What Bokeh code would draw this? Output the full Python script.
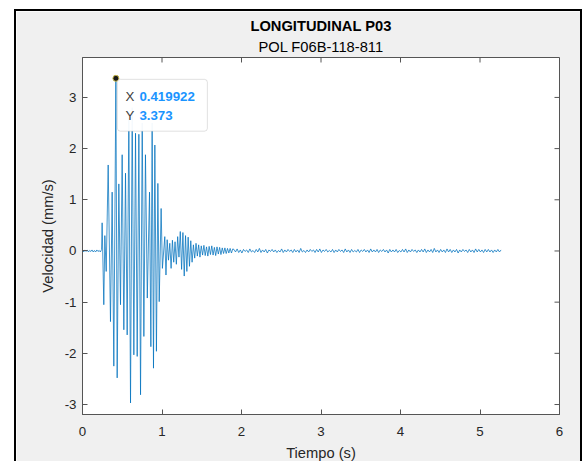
from bokeh.plotting import figure
from bokeh.models import Range1d, FixedTicker, Label, Title, BoxAnnotation
from bokeh.embed import file_html
from bokeh.resources import INLINE

title_text = "LONGITUDINAL P03"
subtitle_text = "POL F06B-118-811"
x_label = "Tiempo (s)"
y_label = "Velocidad (mm/s)"
x_ticks = [0, 1, 2, 3, 4, 5, 6]
y_ticks = [-3, -2, -1, 0, 1, 2, 3]

# pre-event noise
pre_t = [0.0, 0.015, 0.03, 0.045, 0.06, 0.075, 0.09, 0.105, 0.12, 0.135,
         0.15, 0.165, 0.18, 0.195, 0.21, 0.225, 0.24]
pre_v = [0.01, -0.02, 0.02, -0.01, 0.02, -0.02, 0.01, -0.01, 0.02, -0.02,
         0.01, -0.02, 0.02, -0.01, 0.01, -0.02, 0.03]

# strong-motion extrema
event_t = [0.247, 0.268, 0.281, 0.298, 0.323, 0.352, 0.373, 0.394, 0.419922, 0.436,
           0.457, 0.478, 0.499, 0.520, 0.541, 0.562, 0.583, 0.604, 0.625, 0.646,
           0.667, 0.688, 0.709, 0.730, 0.751, 0.772, 0.792, 0.815, 0.843, 0.860,
           0.876, 0.893, 0.910, 0.930, 0.948, 0.965, 0.989, 1.005, 1.035, 1.050]
event_v = [0.55, -1.05, 0.30, -0.40, 1.68, -1.38, 1.15, -2.25, 3.373, -2.48,
           1.31, -1.05, 1.88, -1.54, 1.52, -1.64, 2.60, -2.97, 2.80, -2.03,
           2.30, -2.06, 2.28, -2.81, 2.50, -1.67, 1.88, -0.92, 1.15, -1.87,
           2.50, -2.29, 2.07, -1.96, 1.32, -0.99, 0.83, -0.34, 0.28, -0.47]

# coda (sampled extrema)
coda_t0 = 1.065
coda_dt = 0.0165
coda_v = [0.22, -0.18, 0.15, -0.34, 0.21, -0.22, 0.18, -0.26, 0.28, -0.12,
          0.38, -0.36, 0.36, -0.49, 0.30, -0.40, 0.27, -0.30, 0.20, -0.22,
          0.12, -0.14, 0.15, -0.10, 0.12, -0.12, 0.10, -0.08, 0.11, -0.09,
          0.08, -0.10, 0.09, -0.07, 0.10, -0.08, 0.07, -0.09, 0.08, -0.06,
          0.07, -0.07, 0.06, -0.05, 0.06, -0.05, 0.05, -0.04, 0.05, -0.04, 0.04]

# background noise
noise_t0 = 1.905
noise_dt = 0.02
noise_v = [0.03, -0.02, 0.04, -0.03, 0.02, -0.04, 0.03, -0.01, 0.02, -0.03,
           0.04, -0.02, 0.01, -0.03, 0.03, -0.02, 0.05, -0.03, 0.02, -0.02,
           0.03, -0.04, 0.02, -0.01, 0.03, -0.02, 0.02, -0.03, 0.01, -0.02,
           0.04, -0.03, 0.02, -0.02, 0.03, -0.01, 0.02, -0.03, 0.03, -0.02,
           0.02, -0.03, 0.05, -0.02, 0.01, -0.03, 0.02, -0.02, 0.03, -0.01,
           0.02, -0.03, 0.03, -0.02, 0.04, -0.03, 0.02, -0.01, 0.03, -0.02,
           0.01, -0.02, 0.03, -0.03, 0.02, -0.02, 0.03, -0.01, 0.02, -0.03,
           0.04, -0.02, 0.02, -0.03, 0.03, -0.02, 0.01, -0.02, 0.03, -0.03,
           0.02, -0.01, 0.03, -0.02, 0.02, -0.03, 0.04, -0.02, 0.02, -0.02,
           0.03, -0.03, 0.02, -0.01, 0.03, -0.02, 0.02, -0.04, 0.03, -0.02,
           0.02, -0.02, 0.03, -0.03, 0.01, -0.02, 0.03, -0.02, 0.04, -0.03,
           0.02, -0.02, 0.03, -0.01, 0.02, -0.03, 0.02, -0.02, 0.03, -0.02,
           0.04, -0.03, 0.02, -0.02, 0.03, -0.03, 0.05, -0.02, 0.02, -0.03,
           0.03, -0.02, 0.02, -0.03, 0.04, -0.02, 0.03, -0.03, 0.02, -0.02,
           0.03, -0.04, 0.02, -0.02, 0.03, -0.01, 0.02, -0.03, 0.03, -0.02,
           0.02, -0.03, 0.04, -0.02, 0.03, -0.02, 0.02, -0.03, 0.03, -0.02,
           0.03, -0.02, 0.02, -0.03, 0.02, -0.02, 0.03, -0.02, 0.02]

tip_x = 0.419922
tip_y = 3.373

coda_t = [coda_t0 + i * coda_dt for i in range(len(coda_v))]
noise_t = [noise_t0 + i * noise_dt for i in range(len(noise_v))]
t = pre_t + event_t + coda_t + noise_t
v = pre_v + event_v + coda_v + noise_v

FONT = "Liberation Sans"
TXT = "#262626"
AX = "#555555"

X0, X1 = 0, 6
Y0, Y1 = -3.195, 3.78
FRAME_W, FRAME_H = 477, 358
PX_X = FRAME_W / (X1 - X0)
PX_Y = FRAME_H / (Y1 - Y0)

p = figure(width=568, height=452, output_backend="svg", toolbar_location=None,
           x_range=Range1d(X0, X1), y_range=Range1d(Y0, Y1),
           min_border_left=66, min_border_right=25, min_border_top=46, min_border_bottom=48,
           background_fill_color="white", border_fill_color="#f0f0f0",
           outline_line_color=AX, outline_line_width=1)
p.styles = {"margin-left": "14px", "margin-top": "9px",
            "border-left": "2px solid black", "border-top": "2px solid black",
            "border-right": "2px solid black"}
p.grid.visible = False

p.line(t, v, line_color="#0072BD", line_width=0.75)

for ax, ticks in ((p.xaxis[0], x_ticks), (p.yaxis[0], y_ticks)):
    ax.ticker = FixedTicker(ticks=ticks)
    ax.major_label_overrides = {k: str(k) for k in ticks}
    ax.major_tick_in = 5
    ax.major_tick_out = 0
    ax.minor_tick_line_color = None
    ax.axis_line_color = AX
    ax.major_tick_line_color = AX
    ax.major_label_text_font = FONT
    ax.major_label_text_color = TXT
    ax.major_label_text_font_size = "13.3px"
    ax.axis_label_text_font = FONT
    ax.axis_label_text_font_size = "14.7px"
    ax.axis_label_text_font_style = "normal"
    ax.axis_label_text_color = TXT
p.xaxis.axis_label = x_label
p.yaxis.axis_label = y_label
p.xaxis.major_label_standoff = 12
p.yaxis.major_label_standoff = 6
p.xaxis.axis_label_standoff = 6
p.yaxis.axis_label_standoff = 6

# box ticks on top and right edges
p.segment(x0=x_ticks, y0=[Y1] * len(x_ticks), x1=x_ticks, y1=[Y1 - 5 / PX_Y] * len(x_ticks),
          line_color=AX, line_width=1)
p.segment(x0=[X1] * len(y_ticks), y0=y_ticks, x1=[X1 - 5 / PX_X] * len(y_ticks), y1=y_ticks,
          line_color=AX, line_width=1)

p.add_layout(Title(text=subtitle_text, align="center", text_font=FONT, text_font_size="14.7px",
                   text_font_style="normal", text_color="black", standoff=5), "above")
p.add_layout(Title(text=title_text, align="center", text_font=FONT, text_font_size="14.7px",
                   text_font_style="bold", text_color="black", standoff=1), "above")

# data tip
p.scatter([tip_x], [tip_y], size=6, fill_color="#1a1a1a", line_color="#c8b84a", line_width=1)
p.add_layout(BoxAnnotation(left=tip_x + 1.5 / PX_X, right=tip_x + 91.5 / PX_X,
                           top=tip_y - 1 / PX_Y, bottom=tip_y - 53 / PX_Y,
                           fill_color="white", fill_alpha=0.95,
                           line_color="#9a9a9a", line_width=1, border_radius=3))
for txt, dx, dy, col, sty in [("X", 9.5, -18, "#404040", "normal"),
                              (str(tip_x), 23.5, -18, "#1a94ff", "bold"),
                              ("Y", 9.5, -37, "#404040", "normal"),
                              (str(tip_y), 23.5, -37, "#1a94ff", "bold")]:
    p.add_layout(Label(x=tip_x, y=tip_y, x_offset=dx, y_offset=dy, text=txt,
                       text_font=FONT, text_font_size="13.3px", text_font_style=sty,
                       text_color=col, text_align="left", text_baseline="middle"))

open("out.html", "w").write(file_html(p, INLINE))
